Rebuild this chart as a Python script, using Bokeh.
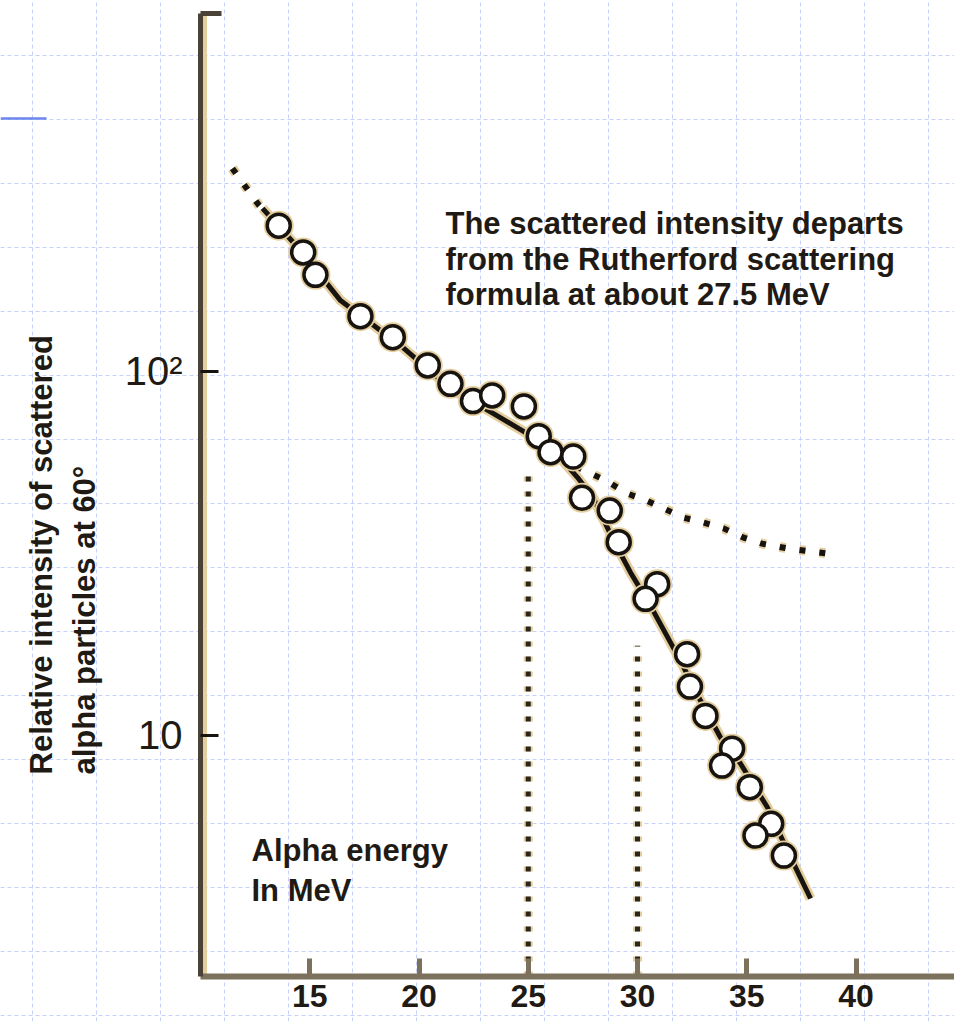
import math
from bokeh.plotting import figure
from bokeh.models import Range1d, FixedTicker, Label
from bokeh.embed import file_html
from bokeh.resources import INLINE

# ---------------- data ----------------
energy_mev = [13.58, 14.70, 15.26, 17.32, 18.80, 20.40, 21.44, 22.47, 23.35, 24.80,
              25.48, 26.02, 27.06, 27.46, 28.73, 29.14, 30.90, 30.37, 32.27, 32.40,
              33.11, 34.33, 33.87, 35.14, 36.12, 35.40, 36.70]
intensity = [251, 212, 184, 141.6, 124, 103.7, 92.3, 82.8, 85.8, 80.0,
             66.3, 59.9, 58.3, 44.9, 41.4, 33.9, 26.0, 23.7, 16.7, 13.6,
             11.3, 9.18, 8.25, 7.20, 5.71, 5.30, 4.67]

fit_energy = [12.84, 14.58, 16.41, 19.15, 21.44, 23.41, 25.24, 26.48, 27.25, 27.99,
              28.90, 29.68, 30.59, 31.97, 32.88, 33.80, 34.71, 35.95, 36.86, 37.92]
fit_intensity = [280, 214.6, 156.3, 117.7, 89.6, 76.5, 65.8, 57.6, 51.1, 44.7,
                 34.3, 28.0, 22.7, 16.0, 12.45, 9.86, 8.36, 6.33, 4.82, 3.56]

rutherford_energy = [11.46, 12.65, 14.58, 16.41, 19.15, 21.44, 23.41, 25.24, 26.48, 27.62,
                     28.54, 29.54, 30.37, 31.19, 32.10, 33.02, 33.94, 34.85, 35.70, 36.86, 38.65]
rutherford_intensity = [360.6, 287, 214.6, 156.3, 117.7, 89.6, 76.5, 65.8, 57.6, 53.2,
                        50.1, 46.1, 44.2, 42.0, 39.6, 38.4, 37.0, 34.9, 33.6, 32.6, 31.6]

marker_energy = [25.0, 30.0]
marker_top = [52.7, 17.6]

x_ticks = [15, 20, 25, 30, 35, 40]
y_ticks = [10, 100]
y_tick_labels = {10: "10", 100: "10²"}

note_lines = ["The scattered intensity departs",
              "from the Rutherford scattering",
              "formula at about 27.5 MeV"]
xlabel_lines = ["Alpha energy", "In MeV"]
ylabel_lines = ["Relative intensity of scattered", "alpha particles at 60°"]

# ---------------- page layout (pixels of the page) ----------------
W, H = 954, 1021
PX_PER_MEV = 21.85
PX_X10 = 200.0        # page x of 10 MeV, where the y axis sits
PX_PER_DECADE = 364.0
PX_Y100 = 370.7       # page y of 10^2


def px_x(px):
    return 10 + (px - PX_X10) / PX_PER_MEV


def px_y(py):
    return 10 ** (2 + (PX_Y100 - py) / PX_PER_DECADE)


INK = "#17140f"
TAN = "#e4cd9e"
TEXT = "#1f1b14"
FONT = "Liberation Sans"

AXIS_Y = px_y(976)     # intensity at which the energy axis is drawn
TOP_Y = px_y(13)

p = figure(width=W, height=H, y_axis_type="log",
           x_range=Range1d(px_x(0), px_x(W)), y_range=Range1d(px_y(H), px_y(0)),
           output_backend="svg", toolbar_location=None,
           min_border=0, min_border_left=0, min_border_right=0,
           min_border_top=0, min_border_bottom=0)
p.outline_line_color = None
p.background_fill_color = "white"
p.border_fill_color = "white"

# faint page grid
p.xgrid.ticker = FixedTicker(ticks=[px_x(32 + 64 * k) for k in range(15)])
p.ygrid.ticker = FixedTicker(ticks=[px_y(55 + 64 * k) for k in range(16)])
for g in (p.xgrid, p.ygrid):
    g.grid_line_color = "#c6d1fb"
    g.grid_line_dash = "4 3"
    g.grid_line_width = 1
p.segment(x0=[px_x(0)], y0=[px_y(118)], x1=[px_x(46)], y1=[px_y(118)],
          line_color="#6c86ee", line_width=2.5)

# axes
xa = p.xaxis[0]
xa.fixed_location = AXIS_Y
xa.bounds = (10, px_x(W))
xa.ticker = FixedTicker(ticks=x_ticks)
xa.axis_line_color = "#7b715d"
xa.axis_line_width = 6
xa.major_tick_in = 18
xa.major_tick_out = 0
xa.major_tick_line_color = "#7b715d"
xa.major_tick_line_width = 5
xa.minor_tick_line_color = None
xa.major_label_standoff = 8
xa.major_label_text_font = FONT
xa.major_label_text_font_style = "bold"
xa.major_label_text_font_size = "32px"
xa.major_label_text_color = TEXT

ya = p.yaxis[0]
ya.fixed_location = 10
ya.bounds = (AXIS_Y, TOP_Y)
ya.ticker = FixedTicker(ticks=y_ticks)
ya.major_label_overrides = y_tick_labels
ya.axis_line_color = "#4a4236"
ya.axis_line_width = 5
ya.major_tick_in = 18
ya.major_tick_out = 0
ya.major_tick_line_color = INK
ya.major_tick_line_width = 3
ya.minor_tick_line_color = None
ya.major_label_standoff = 18
ya.major_label_text_font = FONT
ya.major_label_text_font_size = "40px"
ya.major_label_text_color = TEXT

# tan edge of the y axis and its top cap
p.segment(x0=[px_x(204.5)], y0=[AXIS_Y], x1=[px_x(204.5)], y1=[TOP_Y],
          line_color=TAN, line_width=4)
p.segment(x0=[10], y0=[TOP_Y], x1=[px_x(221)], y1=[TOP_Y],
          line_color="#4a4236", line_width=5)

# vertical dotted markers at 25 and 30 MeV
p.segment(x0=marker_energy, y0=[AXIS_Y] * 2, x1=marker_energy, y1=marker_top,
          line_color=TAN, line_width=9, line_dash="5 10")
p.segment(x0=marker_energy, y0=[AXIS_Y] * 2, x1=marker_energy, y1=marker_top,
          line_color="#2a251d", line_width=5, line_dash="5 10")

# Rutherford prediction (dotted)
p.line(rutherford_energy, rutherford_intensity, line_color=TAN, line_width=10,
       line_dash="6 14")
p.line(rutherford_energy, rutherford_intensity, line_color=INK, line_width=6,
       line_dash="6 14")

# fitted curve through the measurements
p.line(fit_energy, fit_intensity, line_color=TAN, line_width=10)
p.line(fit_energy, fit_intensity, line_color=INK, line_width=5)

# measured points
p.scatter(energy_mev, intensity, size=30, marker="circle",
          fill_color=TAN, line_color=None)
p.scatter(energy_mev, intensity, size=23, marker="circle",
          fill_color="white", line_color=INK, line_width=3.5)

# texts
for i, t in enumerate(note_lines):
    p.add_layout(Label(x=px_x(445), y=px_y(223 + 35.5 * i), text=t,
                       text_font=FONT, text_font_style="bold",
                       text_font_size="31px", text_color=TEXT,
                       text_align="left", text_baseline="alphabetic"))
for i, t in enumerate(xlabel_lines):
    p.add_layout(Label(x=px_x(251), y=px_y(850 + 40 * i), text=t,
                       text_font=FONT, text_font_style="bold",
                       text_font_size="31px", text_color=TEXT,
                       text_align="left", text_baseline="alphabetic"))
for i, t in enumerate(ylabel_lines):
    p.add_layout(Label(x=px_x(41 + 43 * i), y=px_y(774), text=t, angle=math.pi / 2,
                       text_font=FONT, text_font_style="bold",
                       text_font_size="31px", text_color=TEXT,
                       text_align="left", text_baseline="alphabetic"))

open("out.html", "w").write(file_html(p, INLINE))
